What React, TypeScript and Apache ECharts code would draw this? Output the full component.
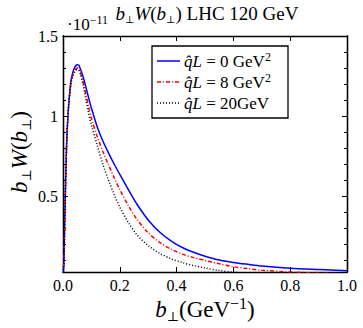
import React, { useEffect, useRef } from "react";
import * as echarts from "echarts";

const bValues = [0, 0.003, 0.006, 0.009, 0.012, 0.015, 0.02, 0.025, 0.03, 0.04, 0.05, 0.055, 0.06, 0.07, 0.08, 0.09, 0.1, 0.12, 0.14, 0.16, 0.18, 0.2, 0.23, 0.26, 0.3, 0.34, 0.38, 0.42, 0.46, 0.5, 0.55, 0.6, 0.65, 0.7, 0.8, 0.9, 1.0];
const blueValues = [0, 0.09, 0.33, 0.57, 0.78, 0.92, 1.07, 1.17, 1.24, 1.3, 1.32, 1.318, 1.3, 1.25, 1.185, 1.115, 1.05, 0.935, 0.845, 0.77, 0.7, 0.635, 0.54, 0.45, 0.35, 0.275, 0.22, 0.178, 0.148, 0.124, 0.1, 0.085, 0.073, 0.062, 0.048, 0.04, 0.033];
const redValues = [0, 0.09, 0.33, 0.57, 0.78, 0.92, 1.07, 1.16, 1.23, 1.28, 1.3, 1.298, 1.28, 1.22, 1.14, 1.06, 0.985, 0.875, 0.78, 0.695, 0.615, 0.54, 0.44, 0.355, 0.27, 0.21, 0.168, 0.137, 0.115, 0.097, 0.077, 0.058, 0.046, 0.036, 0.025, 0.018, 0.014];
const blackValues = [0, 0.09, 0.33, 0.57, 0.78, 0.92, 1.07, 1.16, 1.22, 1.27, 1.29, 1.287, 1.27, 1.2, 1.11, 1.02, 0.945, 0.82, 0.7, 0.6, 0.51, 0.43, 0.335, 0.258, 0.19, 0.142, 0.108, 0.084, 0.065, 0.05, 0.034, 0.024, 0.017, 0.012, 0.007, 0.004, 0.002];
const seriesNames = ["q̂L = 0 GeV²", "q̂L = 8 GeV²", "q̂L = 20GeV"];
const yMajorTicks = [0.5, 1, 1.5];
const yMinorTicks = [0.1, 0.2, 0.3, 0.4, 0.6, 0.7, 0.8, 0.9, 1.1, 1.2, 1.3, 1.4];

const F = "Liberation Serif";
const mkRich = (size: number) => ({
  i: { fontFamily: F, fontStyle: "italic", fontSize: size, color: "#000", lineHeight: size + 4 },
  r: { fontFamily: F, fontSize: size, color: "#000", lineHeight: size + 4 },
  sub: { fontFamily: "DejaVu Serif", fontSize: Math.round(size * 0.55), color: "#000", verticalAlign: "bottom", lineHeight: Math.round(size * 0.55) + 2 },
  sup: { fontFamily: F, fontSize: Math.round(size * 0.68), color: "#000", verticalAlign: "top", lineHeight: Math.round(size * 0.68) + 2 },
});

export default function App() {
  const ref = useRef<HTMLDivElement>(null);
  useEffect(() => {
    document.body.style.margin = "0";
    const chart = echarts.init(ref.current!, null, { renderer: "svg" });
    const pairs = (vals: number[]) => bValues.map((b, i) => [b, vals[i]]);
    const xBase = {
      type: "value",
      min: 0,
      max: 1,
      interval: 0.2,
      axisLine: { lineStyle: { color: "#000", width: 1.3 } },
      axisTick: { inside: true, length: 5, lineStyle: { color: "#000" } },
      splitLine: { show: false },
    };
    const yBase = {
      type: "value",
      min: 0.025,
      max: 1.5,
      axisLine: { show: true, lineStyle: { color: "#000", width: 1.3 } },
      splitLine: { show: false },
    };
    const legendRows = [
      { y: 61, color: "#0000ff", dash: undefined as any, label: "{i|q̂L}{r| = 0 GeV}{sup|2}" },
      { y: 82, color: "#ff0000", dash: [4, 2, 1, 2], label: "{i|q̂L}{r| = 8 GeV}{sup|2}" },
      { y: 103, color: "#000000", dash: [1, 2], label: "{i|q̂L}{r| = 20GeV}" },
    ];
    const graphic: any[] = [
      {
        type: "rect",
        shape: { x: 152, y: 46, width: 136, height: 72 },
        style: { fill: "#fff", stroke: "#000", lineWidth: 1.3 },
        z: 100,
      },
      {
        type: "text",
        x: 67,
        y: 24,
        style: { text: "{r|·10}{sup|−11}", rich: mkRich(17), textVerticalAlign: "middle" },
      },
      {
        type: "text",
        x: 207,
        y: 13,
        style: {
          text: "{i|b}{sub|⊥}{i|W}{r|(}{i|b}{sub|⊥}{r|) LHC 120 GeV}",
          rich: mkRich(19),
          textAlign: "center",
          textVerticalAlign: "middle",
        },
      },
      {
        type: "text",
        x: 205,
        y: 309,
        style: {
          text: "{i|b}{sub|⊥}{r|(GeV}{sup|−1}{r|)}",
          rich: mkRich(23),
          textAlign: "center",
          textVerticalAlign: "middle",
        },
      },
      {
        type: "text",
        x: 19,
        y: 152,
        rotation: Math.PI / 2,
        style: {
          text: "{i|b}{sub|⊥}{i|W}{r|(}{i|b}{sub|⊥}{r|)}",
          rich: mkRich(23),
          textAlign: "center",
          textVerticalAlign: "middle",
        },
      },
    ];
    legendRows.forEach((r) => {
      graphic.push({
        type: "line",
        shape: { x1: 157, y1: r.y, x2: 180, y2: r.y },
        style: { stroke: r.color, lineWidth: 1.5, lineDash: r.dash },
        z: 101,
      });
      graphic.push({
        type: "text",
        x: 184,
        y: r.y,
        z: 101,
        style: { text: r.label, rich: mkRich(17), textVerticalAlign: "middle" },
      });
    });
    chart.setOption({
      animation: false,
      textStyle: { fontFamily: F },
      grid: { left: 63, right: 16, top: 36, bottom: 56 },
      xAxis: [
        {
          ...xBase,
          position: "bottom",
          axisLabel: { formatter: (v: number) => v.toFixed(1), fontFamily: F, fontSize: 16, color: "#000", margin: 5 },
        },
        { ...xBase, position: "top", axisLabel: { show: false } },
      ],
      yAxis: [
        {
          ...yBase,
          position: "left",
          axisTick: { inside: true, length: 5, customValues: yMajorTicks, lineStyle: { color: "#000" } },
          axisLabel: { customValues: yMajorTicks, formatter: (v: number) => String(v), fontFamily: F, fontSize: 16, color: "#000", margin: 5 },
        },
        { ...yBase, position: "left", axisTick: { inside: true, length: 3, customValues: yMinorTicks, lineStyle: { color: "#000" } }, axisLabel: { show: false } },
        { ...yBase, position: "right", axisTick: { inside: true, length: 5, customValues: yMajorTicks, lineStyle: { color: "#000" } }, axisLabel: { show: false } },
        { ...yBase, position: "right", axisTick: { inside: true, length: 3, customValues: yMinorTicks, lineStyle: { color: "#000" } }, axisLabel: { show: false } },
      ],
      series: [
        { name: seriesNames[0], type: "line", data: pairs(blueValues), showSymbol: false, symbol: "none", smooth: 0.3, lineStyle: { color: "#0000ff", width: 1.5 } },
        { name: seriesNames[1], type: "line", data: pairs(redValues), showSymbol: false, symbol: "none", smooth: 0.3, lineStyle: { color: "#ff0000", width: 1.5, type: [4, 2, 1, 2] } },
        { name: seriesNames[2], type: "line", data: pairs(blackValues), showSymbol: false, symbol: "none", smooth: 0.3, lineStyle: { color: "#000000", width: 1.5, type: [1, 2] } },
      ],
      graphic,
    });
    return () => chart.dispose();
  }, []);
  return <div ref={ref} style={{ width: 363, height: 328 }} />;
}
